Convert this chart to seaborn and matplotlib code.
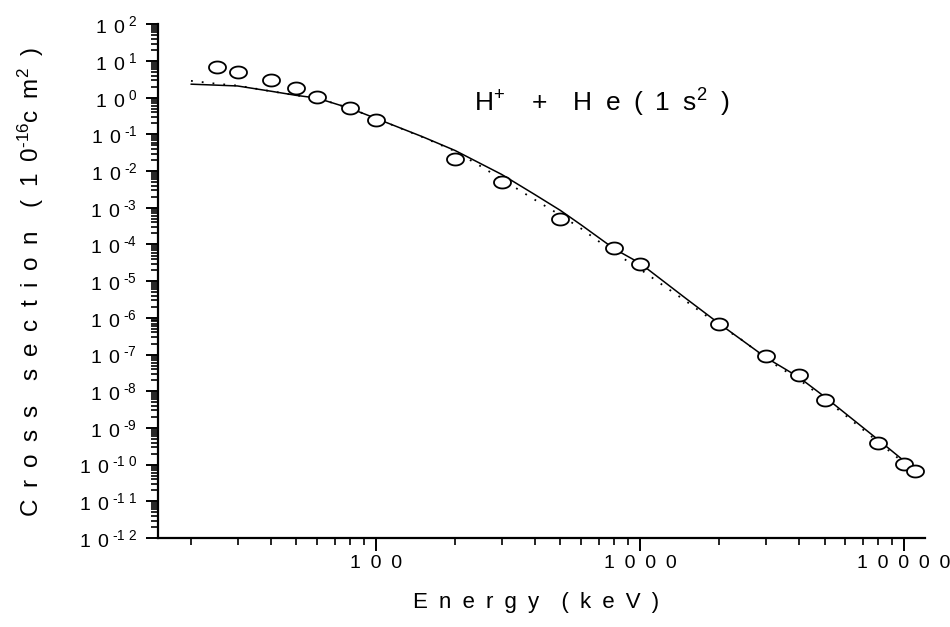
import numpy as np
import matplotlib
matplotlib.use("Agg")
import matplotlib.pyplot as plt
from matplotlib.path import Path
from matplotlib.ticker import FixedLocator, FuncFormatter, NullFormatter
import seaborn as sns

# ---------------- data ----------------
exp_energy = [25, 30, 40, 50, 60, 80, 100, 200, 300, 500, 800, 1000,
              2000, 3000, 4000, 5000, 8000, 10000, 11000]
exp_sigma = [6.8, 5.0, 3.0, 1.82, 1.04, 0.52, 0.244, 0.022, 4.9e-3, 5.1e-4,
             8.2e-5, 2.9e-5, 6.6e-7, 9.0e-8, 2.86e-8, 5.9e-9, 4.0e-10,
             1.07e-10, 6.9e-11]

solid_energy = [20, 30, 40, 50, 60, 80, 100, 150, 200, 300, 400, 500, 600,
                800, 1000, 1500, 2000, 3000, 4000, 5000, 8000, 10000]
solid_sigma = [2.34, 2.09, 1.51, 1.16, 0.977, 0.513, 0.275, 0.0871, 0.0363,
               8.1e-3, 2.3e-3, 8.5e-4, 3.4e-4, 7.6e-5, 3.1e-5, 3.3e-6,
               6.9e-7, 8.3e-8, 2.4e-8, 7.1e-9, 4.7e-10, 1.26e-10]

dotted_energy = [20, 25, 30, 40, 50, 60, 80, 100, 150, 200, 250, 300, 400,
                 500, 600, 800, 1000, 1200, 1500, 2000, 2500, 3000, 4000,
                 5000, 6000, 8000, 10000]
dotted_sigma = [2.88, 2.40, 2.14, 1.51, 1.16, 0.977, 0.513, 0.275, 0.0851,
                0.0347, 0.0135, 6.0e-3, 1.66e-3, 6.3e-4, 2.7e-4, 6.0e-5,
                2.14e-5, 8.5e-6, 2.8e-6, 6.3e-7, 2.2e-7, 7.6e-8, 2.1e-8,
                6.2e-9, 2.2e-9, 4.1e-10, 1.1e-10]

x_ticks = [100, 1000, 10000]
y_exponents = list(range(-12, 3))

SP = "\u2002"  # wide letter spacing as in the reference

# ---------------- style ----------------
sns.set_style("ticks")
plt.rcParams["font.family"] = ["Liberation Sans", "DejaVu Sans"]
plt.rcParams["mathtext.fontset"] = "custom"
plt.rcParams["mathtext.rm"] = "Liberation Sans"
plt.rcParams["mathtext.it"] = "Liberation Sans:italic"
plt.rcParams["mathtext.bf"] = "Liberation Sans:bold"

fig = plt.figure(figsize=(9.5, 6.27), dpi=100)
ax = fig.add_axes([0.1663, 0.1419, 0.8074, 0.8193])

sns.lineplot(x=solid_energy, y=solid_sigma, ax=ax, color="black",
             linewidth=1.1, estimator=None, sort=False, zorder=2)
sns.lineplot(x=dotted_energy, y=dotted_sigma, ax=ax, color="black",
             linewidth=1.3, linestyle=(0, (1, 5)), estimator=None,
             sort=False, zorder=2)

t = np.linspace(0, 2 * np.pi, 73)
ellipse = Path(np.column_stack([1.42 * np.cos(t), np.sin(t)]), closed=True)
sns.scatterplot(x=exp_energy, y=exp_sigma, ax=ax, marker=ellipse, s=150,
                color="white", edgecolor="black", linewidth=1.3, zorder=3)

ax.set_xscale("log")
ax.set_yscale("log")
ax.set_xlim(15, 12000)
ax.set_ylim(1e-12, 1e2)

for side in ("top", "right"):
    ax.spines[side].set_visible(False)
for side in ("left", "bottom"):
    ax.spines[side].set_linewidth(1.6)
    ax.spines[side].set_color("black")

# x ticks
ax.xaxis.set_major_locator(FixedLocator(x_ticks))
ax.xaxis.set_major_formatter(FuncFormatter(lambda v, p: SP.join(str(int(round(v))))))
x_minor = [m * 10 ** d for d in range(1, 4) for m in range(2, 10)]
ax.xaxis.set_minor_locator(FixedLocator(x_minor))
ax.xaxis.set_minor_formatter(NullFormatter())

# y ticks
def y_label(v, pos):
    k = int(round(np.log10(v)))
    digits = str(abs(k))
    parts = [("-" if k < 0 else "") + digits[0]] + list(digits[1:])
    e = r"\ ".join(r"\text{" + p + "}" for p in parts)
    return r"$1\enspace0^{\;" + e + r"}$"

ax.yaxis.set_major_locator(FixedLocator([10.0 ** k for k in y_exponents]))
ax.yaxis.set_major_formatter(FuncFormatter(y_label))
y_minor = [m * 10.0 ** k for k in y_exponents[:-1] for m in range(2, 10)]
ax.yaxis.set_minor_locator(FixedLocator(y_minor))
ax.yaxis.set_minor_formatter(NullFormatter())

ax.tick_params(axis="both", which="major", direction="out", length=9,
               width=1.4, color="black", labelcolor="black")
ax.tick_params(axis="both", which="minor", direction="out", length=5,
               width=1.2, color="black")
ax.tick_params(axis="x", which="major", pad=3, labelsize=14)
ax.tick_params(axis="y", which="major", pad=6, labelsize=14)

ax.set_xlabel(SP.join("Energy") + SP + SP + SP.join("(keV)"), fontsize=16,
              color="black")
ax.xaxis.set_label_coords(0.493, -0.105)
ax.set_ylabel(SP.join("Cross") + SP + SP + SP.join("section") + SP + SP
              + "(" + SP + "1" + SP + "0" + r"$^{\text{-16}}$" + "c" + SP + "m"
              + r"$^{\text{2}}$" + SP + ")", fontsize=17.5, color="black")
ax.yaxis.set_label_coords(-0.146, 0.498)

ax.text(0.579, 0.847, "H" + r"$^{\text{+}}$" + SP + SP + "+" + SP + SP + "H"
        + SP + "e" + SP + "(" + SP + "1" + SP + "s" + r"$^{\text{2}}$" + SP + ")",
        transform=ax.transAxes, fontsize=19, ha="center", va="center",
        color="black")

fig.savefig("out.png", dpi=100)
